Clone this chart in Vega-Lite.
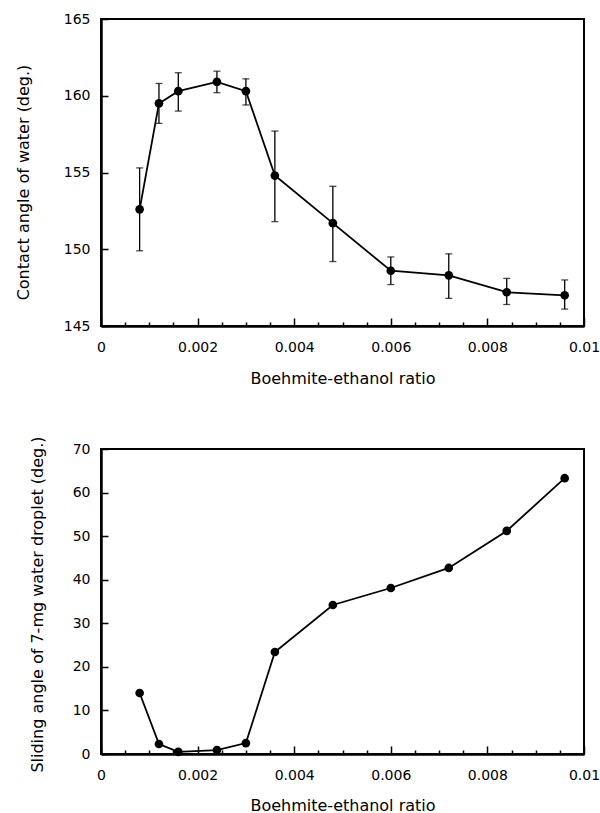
{
  "$schema": "https://vega.github.io/schema/vega-lite/v6.json",
  "padding": {"left": 14, "top": 11, "right": 0, "bottom": 0},
  "background": "white",
  "datasets": {
    "a": [
      {"ratio": 0.0008, "angle": 152.6, "lo": 149.9, "hi": 155.3},
      {"ratio": 0.0012, "angle": 159.5, "lo": 158.2, "hi": 160.8},
      {"ratio": 0.0016, "angle": 160.3, "lo": 159.0, "hi": 161.5},
      {"ratio": 0.0024, "angle": 160.9, "lo": 160.2, "hi": 161.6},
      {"ratio": 0.0030, "angle": 160.3, "lo": 159.4, "hi": 161.1},
      {"ratio": 0.0036, "angle": 154.8, "lo": 151.8, "hi": 157.7},
      {"ratio": 0.0048, "angle": 151.7, "lo": 149.2, "hi": 154.1},
      {"ratio": 0.0060, "angle": 148.6, "lo": 147.7, "hi": 149.5},
      {"ratio": 0.0072, "angle": 148.3, "lo": 146.8, "hi": 149.7},
      {"ratio": 0.0084, "angle": 147.2, "lo": 146.4, "hi": 148.1},
      {"ratio": 0.0096, "angle": 147.0, "lo": 146.1, "hi": 148.0}
    ],
    "b": [
      {"ratio": 0.0008, "sliding": 14.0},
      {"ratio": 0.0012, "sliding": 2.3},
      {"ratio": 0.0016, "sliding": 0.5},
      {"ratio": 0.0024, "sliding": 0.9},
      {"ratio": 0.0030, "sliding": 2.5},
      {"ratio": 0.0036, "sliding": 23.4},
      {"ratio": 0.0048, "sliding": 34.2},
      {"ratio": 0.0060, "sliding": 38.1},
      {"ratio": 0.0072, "sliding": 42.7},
      {"ratio": 0.0084, "sliding": 51.2},
      {"ratio": 0.0096, "sliding": 63.3}
    ]
  },
  "bounds": "flush",
  "spacing": 123,
  "vconcat": [
    {
      "width": 483,
      "height": 307,
      "encoding": {
        "x": {
          "field": "ratio", "type": "quantitative",
          "scale": {"domain": [0, 0.01], "nice": false, "zero": false},
          "axis": {
            "values": [0, 0.0005, 0.001, 0.0015, 0.002, 0.0025, 0.003, 0.0035, 0.004, 0.0045, 0.005, 0.0055, 0.006, 0.0065, 0.007, 0.0075, 0.008, 0.0085, 0.009, 0.0095, 0.01],
            "tickSize": {"condition": {"test": "round(datum.value*2000) % 4 === 0", "value": -8}, "value": -4},
            "labelExpr": "round(datum.value*2000) % 4 !== 0 ? '' : (datum.value === 0 ? '0' : (datum.value > 0.0099 ? '0.01' : format(datum.value, '.3f')))",
            "labelFlush": false, "labelOverlap": false, "labelPadding": 29, "labelBaseline": "middle",
            "title": "Boehmite-ethanol ratio", "titleY": 52, "titleBaseline": "middle"
          }
        }
      },
      "layer": [
        {
          "data": {"name": "a"},
          "mark": {"type": "errorbar", "ticks": true, "size": 7, "thickness": 1.3, "color": "black"},
          "encoding": {
            "y": {"field": "lo", "type": "quantitative",
              "scale": {"domain": [145, 165], "nice": false, "zero": false},
              "axis": {"values": [145, 150, 155, 160, 165], "tickSize": -7, "labelPadding": 18, "title": "Contact angle of water (deg.)", "titleX": -78, "titleY": 163, "titleBaseline": "middle"}},
            "y2": {"field": "hi"}
          }
        },
        {
          "data": {"name": "a"},
          "mark": {"type": "line", "color": "black", "strokeWidth": 1.8, "point": {"filled": true, "size": 75, "color": "black", "opacity": 1}},
          "encoding": {
            "y": {"field": "angle", "type": "quantitative",
              "scale": {"domain": [145, 165], "nice": false, "zero": false},
              "axis": {"values": [145, 150, 155, 160, 165], "tickSize": -7, "labelPadding": 18, "title": "Contact angle of water (deg.)", "titleX": -78, "titleY": 163, "titleBaseline": "middle"}}
          }
        },
        {
          "data": {"values": [{}]},
          "mark": {"type": "text", "text": "(a)", "fontSize": 20, "align": "left", "baseline": "middle", "font": "DejaVu Sans", "color": "black"},
          "encoding": {
            "x": {"datum": 0.0003, "type": "quantitative"},
            "y": {"datum": 162.9, "type": "quantitative"}
          }
        }
      ]
    },
    {
      "width": 483,
      "height": 305,
      "encoding": {
        "x": {
          "field": "ratio", "type": "quantitative",
          "scale": {"domain": [0, 0.01], "nice": false, "zero": false},
          "axis": {
            "values": [0, 0.0005, 0.001, 0.0015, 0.002, 0.0025, 0.003, 0.0035, 0.004, 0.0045, 0.005, 0.0055, 0.006, 0.0065, 0.007, 0.0075, 0.008, 0.0085, 0.009, 0.0095, 0.01],
            "tickSize": {"condition": {"test": "round(datum.value*2000) % 4 === 0", "value": -8}, "value": -4},
            "labelExpr": "round(datum.value*2000) % 4 !== 0 ? '' : (datum.value === 0 ? '0' : (datum.value > 0.0099 ? '0.01' : format(datum.value, '.3f')))",
            "labelFlush": false, "labelOverlap": false, "labelPadding": 29, "labelBaseline": "middle",
            "title": "Boehmite-ethanol ratio", "titleY": 51, "titleBaseline": "middle"
          }
        }
      },
      "layer": [
        {
          "data": {"name": "b"},
          "mark": {"type": "line", "color": "black", "strokeWidth": 1.8, "point": {"filled": true, "size": 75, "color": "black", "opacity": 1}},
          "encoding": {
            "y": {"field": "sliding", "type": "quantitative",
              "scale": {"domain": [0, 70], "nice": false},
              "axis": {"values": [0, 10, 20, 30, 40, 50, 60, 70], "tickSize": -7, "labelPadding": 18, "title": "Sliding angle of 7-mg water droplet (deg.)", "titleX": -64, "titleY": 155, "titleBaseline": "middle"}}
          }
        },
        {
          "data": {"values": [{}]},
          "mark": {"type": "text", "text": "(b)", "fontSize": 20, "align": "left", "baseline": "middle", "font": "DejaVu Sans", "color": "black"},
          "encoding": {
            "x": {"datum": 0.0003, "type": "quantitative"},
            "y": {"datum": 63.6, "type": "quantitative"}
          }
        }
      ]
    }
  ],
  "config": {
    "font": "DejaVu Sans",
    "view": {"stroke": "black", "strokeWidth": 2},
    "axis": {
      "grid": false,
      "domainColor": "black", "domainWidth": 2.5,
      "tickColor": "black", "tickWidth": 1.5,
      "labelColor": "black", "labelFontSize": 14, "labelFont": "DejaVu Sans",
      "titleColor": "black", "titleFontSize": 16, "titleFont": "DejaVu Sans", "titleFontWeight": "normal"
    }
  }
}
